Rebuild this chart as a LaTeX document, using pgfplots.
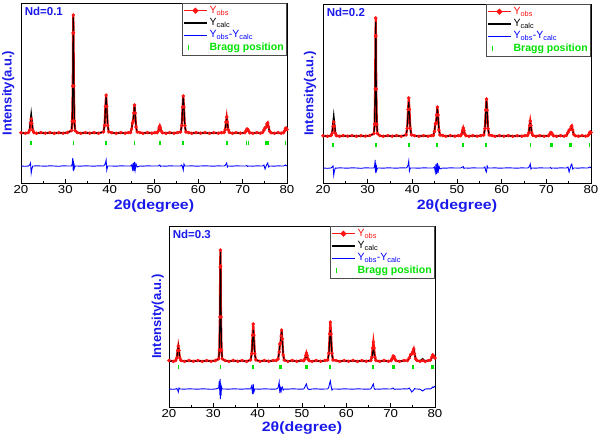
\documentclass[border=0pt]{standalone}
\usepackage{pgfplots}
\pgfplotsset{compat=1.18}
\usepackage{pgfplotstable}
\usepackage{fontspec}
\setmainfont{Liberation Sans}
\definecolor{obsred}{RGB}{255,20,20}
\definecolor{difblue}{RGB}{0,0,255}
\definecolor{braggreen}{RGB}{0,225,0}
\definecolor{lblblue}{RGB}{25,25,235}

\pgfplotstableread{
x obs calc diff
20.0 0.3 0.0 -33.0
21.0 -0.3 0.0 -33.3
21.7 0.4 0.6 -33.0
21.95 2.8 4.2 -32.0
22.15 9.8 14.7 -30.0
22.3 14.0 21.0 -40.0
22.45 9.8 14.7 -36.0
22.65 2.8 4.2 -33.0
22.9 0.4 0.6 -33.0
23.5 -0.3 0.0 -32.8
24.5 0.4 0.0 -33.0
25.5 -0.2 0.0 -33.2
26.5 0.4 0.0 -32.8
27.5 -0.3 0.0 -33.0
28.5 0.3 0.0 -33.3
29.5 -0.2 0.0 -32.8
30.5 0.5 0.2 -33.0
31.4 2.4 2.3 -33.0
31.55 11.8 11.6 -31.0
31.68 47.0 46.0 -25.0
31.75 100.0 97.0 -37.0
31.8 118.0 116.0 -28.0
31.85 100.0 102.0 -38.0
31.92 47.0 49.0 -30.0
32.05 11.8 12.0 -35.0
32.2 2.4 2.3 -33.0
32.7 0.4 0.2 -33.0
33.5 -0.3 0.0 -33.2
34.5 0.4 0.0 -32.8
35.5 -0.2 0.0 -33.0
36.5 0.4 0.0 -33.2
37.5 -0.3 0.0 -32.8
38.6 1.1 1.1 -33.0
38.85 7.6 7.2 -32.0
39.05 26.6 25.2 -30.0
39.2 38.0 36.0 -27.0
39.35 26.6 25.5 -37.0
39.55 7.6 7.5 -33.0
39.8 1.1 1.1 -33.0
40.5 0.3 0.0 -33.0
41.5 -0.3 0.0 -33.2
42.5 0.4 0.0 -32.8
43.5 -0.2 0.0 -33.0
44.2 0.4 0.2 -33.0
44.7 0.5 0.5 -33.0
44.95 4.0 4.0 -32.0
45.15 10.0 11.0 -36.0
45.3 12.0 13.0 -30.0
45.45 20.0 19.0 -38.0
45.6 28.0 28.0 -29.0
45.75 20.0 21.0 -37.0
45.95 6.0 6.0 -31.0
46.2 1.0 1.0 -34.0
46.8 0.5 0.3 -33.0
47.5 -0.3 0.0 -33.2
48.5 0.4 0.0 -32.8
49.5 -0.2 0.0 -33.0
50.2 0.4 0.2 -33.0
50.7 0.3 0.3 -33.0
50.95 1.8 1.5 -33.0
51.15 5.0 4.3 -32.5
51.3 7.0 6.0 -32.0
51.45 5.0 4.3 -33.5
51.65 1.8 1.5 -33.0
51.9 0.3 0.3 -33.0
52.7 -0.3 0.0 -33.2
53.5 0.4 0.0 -32.8
54.5 -0.2 0.0 -33.0
55.3 0.4 0.2 -33.0
56.0 1.0 1.0 -33.0
56.25 7.4 7.4 -32.0
56.45 26.0 26.0 -34.0
56.6 37.0 37.0 -37.0
56.75 26.0 26.0 -31.0
56.95 7.4 7.4 -33.0
57.2 1.0 1.0 -33.0
57.8 0.4 0.2 -33.0
58.5 -0.3 0.0 -32.8
59.5 0.4 0.0 -33.2
60.5 -0.2 0.0 -33.0
61.5 0.4 0.0 -32.8
62.5 -0.3 0.0 -33.0
63.5 0.3 0.0 -33.2
64.5 -0.2 0.0 -32.8
65.2 0.4 0.2 -33.0
65.8 0.5 0.5 -33.0
66.05 3.2 3.0 -32.5
66.25 11.0 10.5 -31.0
66.4 16.0 15.0 -30.0
66.55 11.0 10.5 -34.0
66.75 3.2 3.0 -33.0
67.0 0.5 0.5 -33.0
67.7 -0.3 0.0 -33.2
68.5 0.4 0.0 -32.8
69.5 -0.2 0.0 -33.0
70.5 0.3 0.3 -33.0
70.75 2.0 1.8 -33.0
70.95 4.0 3.5 -32.5
71.15 3.8 3.3 -33.5
71.35 1.8 1.6 -33.0
71.6 0.3 0.3 -33.0
72.3 -0.3 0.0 -33.2
73.2 0.4 0.0 -32.8
74.0 -0.2 0.0 -33.0
74.5 0.5 0.5 -33.0
74.8 3.0 3.0 -32.0
75.05 5.0 6.0 -36.0
75.3 6.0 5.5 -33.0
75.5 9.0 8.0 -31.0
75.65 10.0 9.0 -30.0
75.85 6.0 5.0 -34.0
76.1 1.5 1.2 -33.0
76.4 0.3 0.3 -33.0
77.2 -0.3 0.0 -33.2
78.0 0.4 0.0 -32.8
78.7 -0.2 0.0 -33.0
79.2 0.3 0.3 -33.0
79.45 2.0 1.8 -32.5
79.65 4.5 4.0 -32.0
79.8 5.0 4.5 -32.5
80.0 3.5 3.0 -33.0
}\dataA

\pgfplotstableread{
x y
22.3 -10
31.8 -10
39.2 -10
45.6 -10
51.3 -10
56.6 -10
66.5 -10
70.9 -10
71.3 -10
75.3 -10
75.7 -10
79.7 -10
}\braggA

\pgfplotstableread{
x obs calc diff
20.0 0.3 0.0 -32.0
21.0 -0.3 0.0 -32.3
21.8 0.4 0.6 -32.0
22.05 2.8 4.4 -31.0
22.25 9.8 15.4 -30.0
22.4 14.0 22.0 -39.0
22.55 9.8 15.4 -35.0
22.75 2.8 4.4 -32.0
23.0 0.4 0.6 -32.2
23.7 -0.3 0.0 -31.8
24.5 0.4 0.0 -32.0
25.5 -0.2 0.0 -32.2
26.5 0.4 0.0 -31.8
27.5 -0.3 0.0 -32.0
28.5 0.3 0.0 -32.3
29.5 -0.2 0.0 -31.8
30.5 0.5 0.2 -32.0
31.4 2.4 2.3 -32.0
31.55 11.8 11.4 -30.0
31.68 47.0 44.0 -24.0
31.75 100.0 95.0 -36.0
31.8 118.0 114.0 -27.0
31.85 100.0 100.0 -37.0
31.92 47.0 48.0 -29.0
32.05 11.8 12.0 -34.0
32.2 2.4 2.3 -32.0
32.7 0.4 0.2 -32.0
33.5 -0.3 0.0 -32.2
34.5 0.4 0.0 -31.8
35.5 -0.2 0.0 -32.0
36.5 0.4 0.0 -32.2
37.5 -0.3 0.0 -31.8
38.6 1.1 1.0 -32.0
38.85 7.6 6.8 -31.0
39.05 26.6 23.8 -29.0
39.2 38.0 34.0 -25.0
39.35 26.6 24.0 -35.0
39.55 7.6 7.0 -32.0
39.8 1.1 1.0 -32.0
40.5 0.3 0.0 -32.0
41.5 -0.3 0.0 -32.2
42.5 0.4 0.0 -31.8
43.5 -0.2 0.0 -32.0
44.2 0.4 0.2 -32.0
44.7 0.5 0.5 -32.0
44.95 4.5 4.5 -31.0
45.15 12.0 12.5 -36.0
45.3 13.0 14.0 -28.0
45.45 21.0 19.0 -38.0
45.6 29.0 28.0 -27.0
45.75 21.0 21.0 -37.0
45.95 6.0 6.0 -30.0
46.2 1.0 1.0 -33.0
46.8 0.5 0.3 -32.0
47.5 -0.3 0.0 -32.2
48.5 0.4 0.0 -31.8
49.5 -0.2 0.0 -32.0
50.3 0.4 0.2 -32.0
50.8 0.3 0.3 -32.0
51.05 2.0 1.8 -31.5
51.25 5.6 4.9 -31.0
51.4 8.0 7.0 -30.5
51.55 5.6 4.9 -32.5
51.75 2.0 1.8 -32.0
52.0 0.3 0.3 -32.0
52.7 -0.3 0.0 -32.2
53.5 0.4 0.0 -31.8
54.5 -0.2 0.0 -32.0
55.3 0.4 0.2 -32.0
56.0 1.0 1.0 -32.0
56.25 7.4 7.2 -31.0
56.45 26.0 25.0 -35.0
56.6 37.0 36.0 -36.0
56.75 26.0 25.5 -30.0
56.95 7.4 7.2 -32.0
57.2 1.0 1.0 -32.0
57.8 0.4 0.2 -32.0
58.5 -0.3 0.0 -31.8
59.5 0.4 0.0 -32.2
60.5 -0.2 0.0 -32.0
61.5 0.4 0.0 -31.8
62.5 -0.3 0.0 -32.0
63.5 0.3 0.0 -32.2
64.5 -0.2 0.0 -31.8
65.2 0.4 0.2 -32.0
65.8 0.5 0.5 -32.0
66.05 3.0 2.6 -31.5
66.25 10.5 9.1 -30.0
66.4 15.0 13.0 -28.0
66.55 10.5 9.1 -33.0
66.75 3.0 2.6 -32.0
67.0 0.5 0.5 -32.0
67.7 -0.3 0.0 -32.2
68.5 0.4 0.0 -31.8
69.5 -0.2 0.0 -32.0
70.5 0.3 0.3 -32.0
70.75 1.8 1.6 -32.0
70.95 3.5 3.0 -31.5
71.15 3.3 2.9 -32.5
71.35 1.6 1.4 -32.0
71.6 0.3 0.3 -32.0
72.3 -0.3 0.0 -32.2
73.2 0.4 0.0 -31.8
74.0 -0.2 0.0 -32.0
74.5 0.5 0.5 -32.0
74.85 3.5 3.5 -31.0
75.1 6.0 6.5 -36.0
75.35 6.5 6.0 -32.0
75.55 9.0 7.5 -29.0
75.7 10.0 8.0 -28.0
75.9 6.0 5.0 -33.0
76.15 1.5 1.2 -32.0
76.5 0.3 0.3 -32.0
77.2 -0.3 0.0 -32.2
78.0 0.4 0.0 -31.8
78.8 -0.2 0.0 -32.0
79.3 0.3 0.3 -32.0
79.55 1.8 1.6 -31.5
79.75 3.8 3.6 -31.0
79.9 4.0 4.0 -31.5
80.0 3.5 3.5 -32.0
}\dataB

\pgfplotstableread{
x y
22.3 -9
31.9 -9
39.3 -9
45.5 -9
51.2 -9
51.4 -9
56.5 -9
66.5 -9
70.9 -9
71.3 -9
75.3 -9
75.6 -9
79.7 -9
}\braggB

\pgfplotstableread{
x obs calc diff
20.0 0.5 0.0 -28.0
21.0 -0.4 0.0 -28.3
21.5 0.5 0.5 -28.0
21.75 3.0 3.0 -27.5
21.95 10.5 10.5 -29.0
22.1 15.0 15.0 -31.0
22.25 10.5 10.5 -27.0
22.45 3.0 3.0 -28.0
22.7 0.5 0.5 -28.0
23.5 -0.4 0.0 -28.2
24.5 0.5 0.0 -27.8
25.5 -0.3 0.0 -28.0
26.5 0.5 0.0 -28.2
27.5 -0.4 0.0 -27.8
28.5 0.4 0.0 -28.0
29.5 -0.3 0.0 -28.3
30.5 0.5 0.2 -28.0
31.2 2.2 2.2 -27.0
31.35 11.0 10.0 -20.0
31.48 44.0 40.0 -34.0
31.55 94.0 92.0 -18.0
31.6 111.0 111.0 -38.0
31.65 95.0 96.0 -22.0
31.72 44.0 48.0 -35.0
31.85 11.0 13.0 -26.0
32.0 2.2 2.2 -28.0
32.6 0.5 0.2 -28.0
33.5 -0.4 0.0 -28.2
34.5 0.5 0.0 -27.8
35.5 -0.3 0.0 -28.0
36.5 0.5 0.0 -28.2
37.5 -0.4 0.0 -27.8
38.4 1.1 0.9 -28.0
38.65 7.4 6.2 -25.0
38.85 26.0 21.7 -33.0
39.0 37.0 31.0 -23.0
39.15 26.0 21.7 -31.0
39.35 7.4 6.2 -28.0
39.6 1.1 0.9 -28.0
40.5 -0.4 0.0 -28.2
41.5 0.5 0.0 -27.8
42.5 -0.3 0.0 -28.0
43.5 0.5 0.0 -28.2
44.2 0.5 0.3 -28.0
44.6 2.0 1.5 -27.0
44.85 9.0 8.0 -21.0
45.0 17.0 16.0 -32.0
45.15 18.0 19.0 -27.0
45.3 25.0 26.0 -30.0
45.4 31.0 31.0 -27.0
45.55 22.0 23.0 -26.0
45.75 6.0 7.0 -29.0
46.0 1.0 1.0 -28.0
46.8 -0.4 0.0 -28.2
47.8 0.5 0.0 -27.8
48.8 -0.3 0.0 -28.0
49.8 0.5 0.0 -28.2
50.4 0.3 0.3 -28.0
50.65 2.0 1.5 -26.0
50.85 5.6 4.2 -24.0
51.0 8.0 6.0 -23.0
51.15 5.6 4.2 -26.0
51.35 2.0 1.5 -28.0
51.6 0.3 0.3 -28.5
52.3 -0.4 0.0 -28.0
53.2 0.5 0.0 -27.8
54.2 -0.3 0.0 -28.2
55.2 0.5 0.0 -28.0
55.8 1.0 0.8 -28.0
56.05 7.8 6.2 -26.0
56.25 27.0 22.0 -22.0
56.4 39.0 31.0 -20.0
56.55 27.0 22.0 -25.0
56.75 7.8 6.2 -29.0
57.0 1.0 0.8 -28.0
57.7 0.5 0.3 -28.0
58.5 -0.4 0.0 -28.2
59.5 0.5 0.0 -27.8
60.5 -0.3 0.0 -28.0
61.5 0.5 0.0 -28.2
62.5 -0.4 0.0 -27.8
63.5 0.4 0.0 -28.0
64.5 -0.3 0.0 -28.2
65.5 0.5 0.5 -28.0
65.75 3.8 2.4 -26.0
65.95 13.0 8.4 -24.0
66.1 19.0 12.0 -23.0
66.25 13.0 8.4 -27.0
66.45 3.8 2.4 -28.5
66.7 0.5 0.5 -28.0
67.5 -0.4 0.0 -28.2
68.5 0.5 0.0 -27.8
69.5 -0.3 0.0 -28.0
70.1 0.4 0.3 -28.0
70.35 2.5 2.0 -27.5
70.55 5.0 4.0 -27.0
70.75 4.5 3.6 -28.0
70.95 2.0 1.6 -28.5
71.2 0.4 0.3 -28.0
72.0 -0.4 0.0 -28.2
73.0 0.5 0.0 -27.8
73.8 0.5 0.5 -28.0
74.2 3.0 2.5 -27.0
74.5 6.5 5.5 -29.0
74.75 7.0 7.5 -31.0
75.0 9.5 9.5 -30.0
75.2 12.0 12.0 -29.0
75.4 7.0 7.0 -27.5
75.65 2.0 2.0 -28.0
75.9 0.6 0.4 -28.0
76.6 -0.3 0.0 -28.2
77.2 0.5 2.5 -30.0
77.8 -0.4 0.0 -28.0
78.5 0.5 0.0 -27.8
79.0 1.0 0.5 -28.0
79.3 4.0 3.0 -27.0
79.5 6.0 4.0 -26.0
79.7 5.0 3.5 -26.5
80.0 3.0 2.5 -25.0
}\dataC

\pgfplotstableread{
x y
22.1 -6
31.6 -6
39.0 -6
45.1 -6
45.4 -6
50.9 -6
51.1 -6
56.3 -6
66.0 -6
70.4 -6
70.8 -6
75.1 -6
79.2 -6
79.6 -6
}\braggC

\pgfplotsset{
 xrd/.style={
  scale only axis,
  xmin=20, xmax=80,
  xtick={20,30,...,80},
  minor x tick num=1,
  ytick=\empty,
  xtick pos=left,
  tick align=inside,
  major tick length=4pt, minor tick length=2pt,
  axis line style={line width=0.9pt},
  every tick/.style={black, line width=0.7pt},
  /pgf/number format/assume math mode=true,
  xticklabel style={font=\fontsize{11.5}{11.5}\selectfont, xscale=1.15, inner sep=2pt},
  xlabel={\bfseries 2θ(degree)},
  xlabel style={font=\fontsize{13.5}{13.5}\selectfont, text=lblblue, xscale=1.18,
    at={(axis description cs:0.5,0)}, anchor=center, yshift=-23pt},
  ylabel={\bfseries Intensity(a.u.)},
  ylabel style={font=\fontsize{13}{13}\selectfont, text=lblblue,
    at={(axis description cs:-0.048,0.5)}, anchor=center},
  legend cell align=left,
  legend style={at={(1,1)}, anchor=north east, draw=black!70, line width=0.6pt, font=\fontsize{10.5}{11}\selectfont, inner sep=1pt, row sep=-0.5pt, fill=white},
  legend image code/.code={\draw[#1] (0cm,0cm) -- (0.8cm,0cm);},
 },
 obsstyle/.style={obsred, line width=2.2pt, mark=*, mark size=1.6pt,
   mark options={solid, line width=0.3pt, fill=obsred},
   legend image code/.code={\draw[obsred, line width=0.7pt] (0cm,0cm) -- (0.8cm,0cm); \fill[obsred] (0.4cm,0cm) circle (1.6pt);}},
 calcstyle/.style={black, line width=1.1pt, legend image code/.code={\draw[black, line width=1.6pt] (0cm,0cm) -- (0.8cm,0cm);}},
 difstyle/.style={difblue, line width=0.9pt, legend image code/.code={\draw[difblue, line width=1.2pt] (0cm,0cm) -- (0.8cm,0cm);}},
 bragstyle/.style={braggreen, only marks, mark=|, mark size=2.4pt, line width=1.6pt,
   legend image code/.code={\draw[braggreen, line width=1.5pt] (0.15cm,-2.2pt) -- (0.15cm,2.2pt);}},
}

\newcommand{\panel}[3]{%
  \addplot[obsstyle] table[x=x,y=obs]{#1};
  \addlegendentry{\textcolor{obsred}{Y\textsubscript{obs}}}
  \addplot[calcstyle] table[x=x,y=calc]{#1};
  \addlegendentry{Y\textsubscript{calc}}
  \addplot[difstyle] table[x=x,y=diff]{#1};
  \addlegendentry{\textcolor{difblue}{Y\textsubscript{obs}-Y\textsubscript{calc}}}
  \addplot[bragstyle] table[x=x,y=y]{#2};
  \addlegendentry{\textcolor{braggreen}{\bfseries Bragg position}}
  \node[anchor=north west, font=\fontsize{11.5}{11.5}\selectfont\bfseries, text=lblblue, inner sep=1pt] at (rel axis cs:0.01,0.985) {#3};
}

\begin{document}
\begin{tikzpicture}
\useasboundingbox (0pt,0pt) rectangle (600pt,440pt);
\begin{axis}[xrd, at={(21pt,257pt)}, anchor=south west, width=266pt, height=180pt, ymin=-50, ymax=130]
\panel{\dataA}{\braggA}{Nd=0.1}
\end{axis}
\begin{axis}[xrd, at={(323pt,257pt)}, anchor=south west, width=268pt, height=179pt, ymin=-47, ymax=132]
\panel{\dataB}{\braggB}{Nd=0.2}
\end{axis}
\begin{axis}[xrd, at={(169pt,33pt)}, anchor=south west, width=266pt, height=181pt, ymin=-46, ymax=135, xlabel style={yshift=2pt}, ylabel style={at={(axis description cs:-0.042,0.5)}}]
\panel{\dataC}{\braggC}{Nd=0.3}
\end{axis}
\end{tikzpicture}
\end{document}
